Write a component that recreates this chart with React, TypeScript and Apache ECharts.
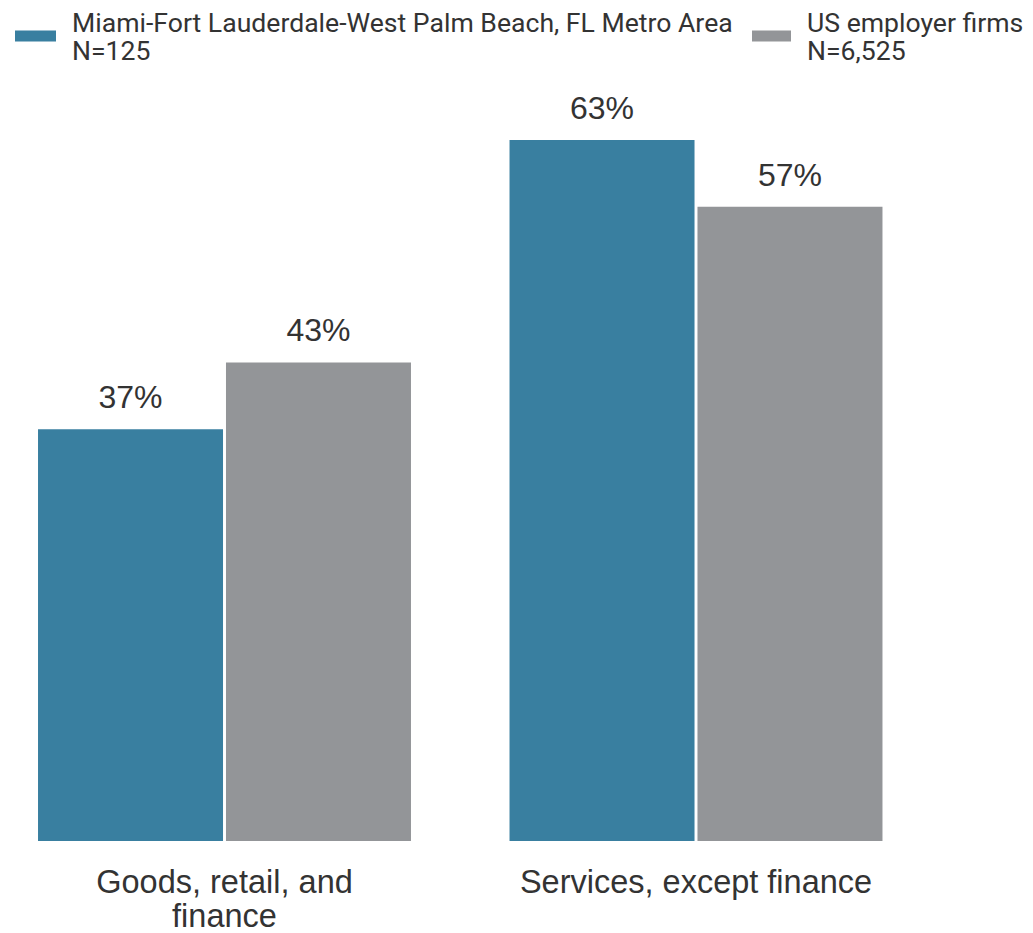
import React, { useEffect, useRef } from "react";
import * as echarts from "echarts";

const categories = ["Goods, retail, and\nfinance", "Services, except finance"];
const seriesNames = [
  "Miami-Fort Lauderdale-West Palm Beach, FL Metro Area\nN=125",
  "US employer firms\nN=6,525",
];
const miamiValues = [37, 63];
const usValues = [43, 57];
const colors = ["#397FA0", "#939598"];

export default function App() {
  const ref = useRef<HTMLDivElement>(null);
  useEffect(() => {
    if (!ref.current) return;
    const chart = echarts.init(ref.current, undefined, { renderer: "svg" });
    const sans = "'Liberation Sans', Arial, sans-serif";
    const roboto = "Roboto, 'Noto Sans', sans-serif";
    const label = {
      show: true,
      position: "top",
      distance: 16,
      formatter: "{c}%",
      fontSize: 32,
      fontFamily: sans,
      color: "#333333",
    };
    const legendText = {
      fontSize: 26.6,
      fontFamily: roboto,
      color: "#333333",
      lineHeight: 28,
      padding: [0, 0, 10, 11],
    };
    chart.setOption({
      animation: false,
      color: colors,
      legend: [
        {
          data: [seriesNames[0]],
          left: 45,
          top: 3,
          padding: 0,
          itemWidth: 41,
          itemHeight: 11,
          icon: "rect",
          textStyle: legendText,
          selectedMode: false,
        },
        {
          data: [seriesNames[1]],
          left: 782,
          top: 3,
          padding: 0,
          itemWidth: 39,
          itemHeight: 11,
          icon: "rect",
          textStyle: legendText,
          selectedMode: false,
        },
      ],
      grid: { left: 18.75, right: 101.25, top: 62, bottom: 91 },
      xAxis: {
        type: "category",
        data: categories,
        axisLine: { show: false },
        axisTick: { show: false },
        axisLabel: {
          fontSize: 32.5,
          lineHeight: 34,
          margin: 24,
          fontFamily: sans,
          color: "#333333",
          interval: 0,
        },
      },
      yAxis: {
        type: "value",
        min: 0,
        max: 70,
        show: false,
        splitLine: { show: false },
      },
      series: [
        {
          name: seriesNames[0],
          type: "bar",
          data: miamiValues,
          barWidth: 185,
          barGap: "1.6%",
          label,
          itemStyle: { color: colors[0] },
        },
        {
          name: seriesNames[1],
          type: "bar",
          data: usValues,
          barWidth: 185,
          barGap: "1.6%",
          label,
          itemStyle: { color: colors[1] },
        },
      ],
    });
    return () => chart.dispose();
  }, []);
  return (
    <div
      ref={ref}
      style={{ position: "absolute", left: -30, top: 0, width: 1063, height: 933 }}
    />
  );
}
